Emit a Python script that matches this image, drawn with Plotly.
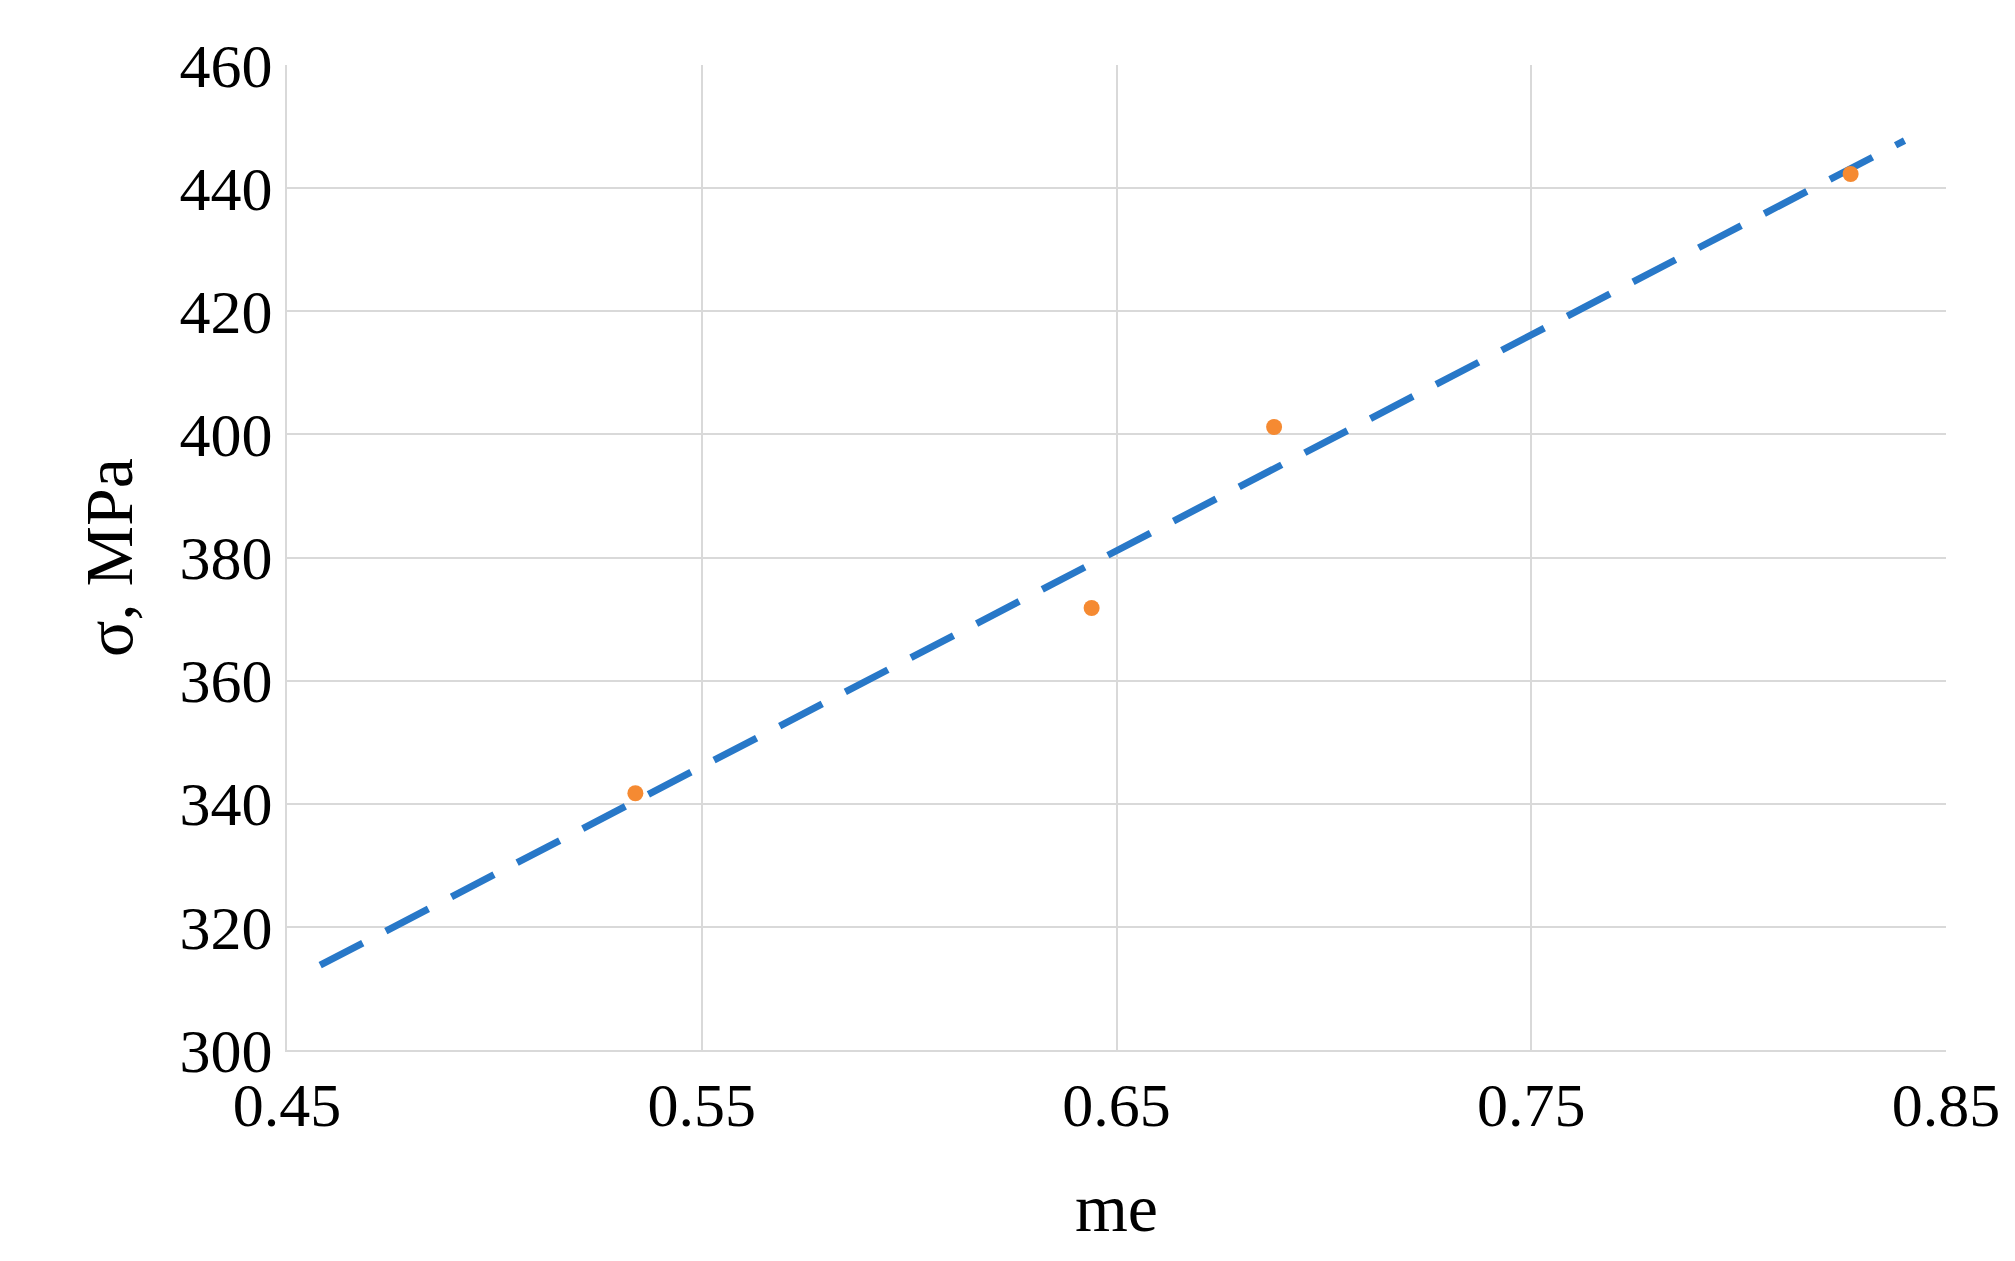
import numpy as np
import plotly.graph_objects as go

me = [0.534, 0.644, 0.688, 0.827]
sigma = [341.7, 371.8, 401.2, 442.3]
trend_x_range = [0.458, 0.840]

slope, intercept = np.polyfit(me, sigma, 1)
tx = np.array(trend_x_range)
ty = slope * tx + intercept

fig = go.Figure()
fig.add_trace(go.Scatter(x=tx, y=ty, mode="lines",
                         line=dict(color="#2878c8", width=7, dash="48px,26px"),
                         showlegend=False))
fig.add_trace(go.Scatter(x=me, y=sigma, mode="markers",
                         marker=dict(color="#f58a32", size=16),
                         showlegend=False))
font = dict(family="Liberation Serif", size=62, color="black")
tfont = dict(family="Liberation Serif", size=68, color="black")
fig.update_layout(
    width=2015, height=1261, plot_bgcolor="white", paper_bgcolor="white",
    margin=dict(l=279, r=77, t=57, b=219), font=font,
    xaxis=dict(range=[0.45, 0.85], tickvals=[0.45, 0.55, 0.65, 0.75, 0.85],
               ticktext=["0.45", "0.55", "0.65", "0.75", "0.85"],
               showgrid=True, gridcolor="#d9d9d9", gridwidth=2,
               showline=True, linecolor="#d9d9d9", linewidth=2, zeroline=False,
               title=dict(text="me", font=tfont, standoff=45), ticklen=0),
    yaxis=dict(range=[300, 460], dtick=20, showgrid=True, gridcolor="#d9d9d9", gridwidth=2,
               showline=True, linecolor="#d9d9d9", linewidth=2, zeroline=False,
               title=dict(text="σ, MPa", font=tfont, standoff=25), ticklen=0),
)
fig.write_html("out.html")
